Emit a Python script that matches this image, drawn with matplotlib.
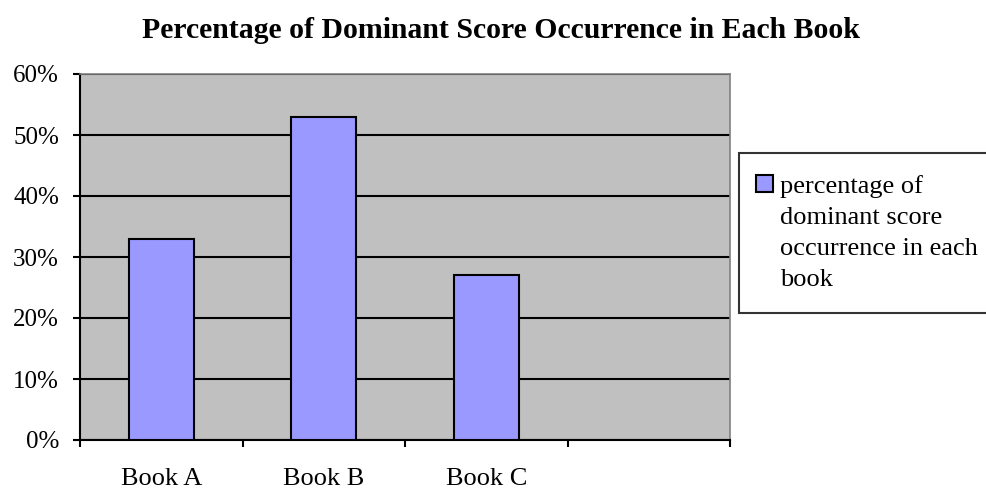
import matplotlib
matplotlib.use("Agg")
import matplotlib.pyplot as plt
from matplotlib.ticker import FixedLocator, PercentFormatter
from matplotlib.legend_handler import HandlerPatch, update_from_first_child
from matplotlib.patches import Rectangle
from matplotlib.container import BarContainer

categories = ["Book A", "Book B", "Book C"]
values = [33, 53, 27]
series_name = "percentage of\ndominant score\noccurrence in each\nbook"
yticks = [0, 10, 20, 30, 40, 50, 60]
title = "Percentage of Dominant Score Occurrence in Each Book"

plt.rcParams['font.family'] = ['Liberation Serif', 'DejaVu Serif']

fig = plt.figure(figsize=(9.86, 4.93), dpi=100)
ax = fig.add_axes([80/986, 1-440/493, 650/986, 366/493])
ax.set_facecolor('#C0C0C0')

n_slots = 4
x = list(range(len(categories)))
ax.bar(x, values, width=0.4, color='#9999FF', edgecolor='black', linewidth=1.5,
       label=series_name, zorder=3)

ax.set_xlim(-0.5, n_slots - 0.5)
ax.set_ylim(0, 60)
ax.set_yticks(yticks)
ax.yaxis.set_major_formatter(PercentFormatter(decimals=0))
ax.yaxis.grid(True, color='black', linewidth=1.5, zorder=1)
ax.set_axisbelow(True)

ax.xaxis.set_major_locator(FixedLocator([i - 0.5 for i in range(n_slots + 1)]))
ax.xaxis.set_minor_locator(FixedLocator(x))
ax.set_xticklabels([])
ax.set_xticklabels(categories, minor=True)
ax.tick_params(axis='x', which='major', length=5, width=1.5, direction='out', color='black')
ax.tick_params(axis='x', which='minor', length=0, pad=20.5, labelsize=19)
ax.tick_params(axis='y', length=5, width=1.5, direction='out', pad=10.2, labelsize=18)

for s in ['left', 'bottom']:
    ax.spines[s].set_color('black')
    ax.spines[s].set_linewidth(1.5)
for s in ['top', 'right']:
    ax.spines[s].set_color('#808080')
    ax.spines[s].set_linewidth(1.2)

fig.text(501/986, 1-30/493, title, ha='center', va='center', fontsize=21.4, fontweight='bold')

LEG_FS = 19


def top_square(legend, orig_handle, xdescent, ydescent, width, height, fontsize):
    s = 0.62 * fontsize
    y0 = 1.9 * fontsize
    return Rectangle((-xdescent - 0.19 * fontsize, y0), s, s)


leg = fig.legend(loc='upper left', bbox_to_anchor=(739/986, 1-153/493), borderaxespad=0,
                 frameon=True, fancybox=False, edgecolor='black', fontsize=LEG_FS,
                 handlelength=0.62, handleheight=0.7, handletextpad=0.1, borderpad=0.85,
                 handler_map={BarContainer: HandlerPatch(patch_func=top_square,
                                                         update_func=update_from_first_child)})
leg.get_frame().set_linewidth(1.5)
for t in leg.get_texts():
    t.set_linespacing(1.52)

fig.savefig("out.png", dpi=100)
